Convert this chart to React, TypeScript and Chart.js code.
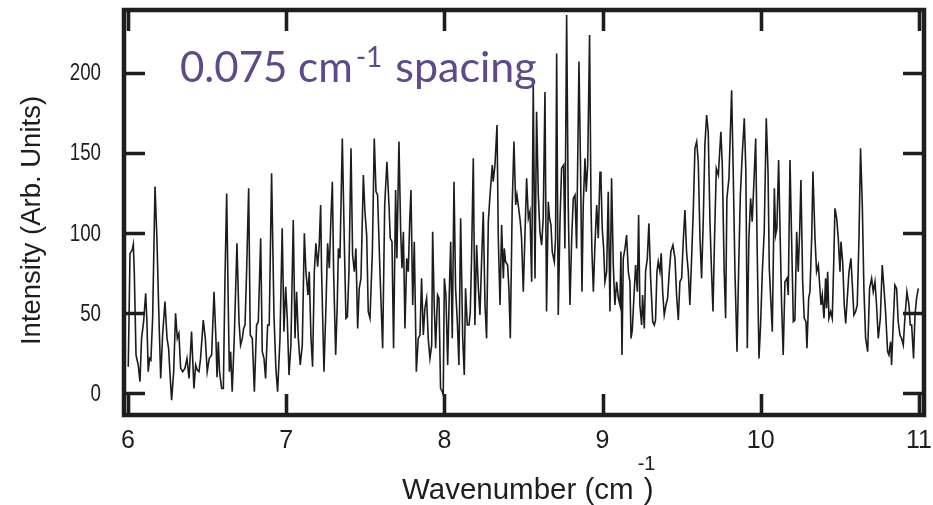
import React, { useEffect, useRef } from 'react';
import { Chart, registerables } from 'chart.js';

Chart.register(...registerables);

// Spectrum
const wavenumber = [
  6.002, 6.013, 6.027, 6.034, 6.040, 6.051, 6.065, 6.076, 6.086, 6.099, 6.112, 6.120, 6.128, 6.137, 6.145, 6.156,
  6.171, 6.183, 6.194, 6.207, 6.219, 6.234, 6.247, 6.257, 6.265, 6.276, 6.289, 6.301, 6.312, 6.322, 6.333, 6.346,
  6.360, 6.373, 6.386, 6.402, 6.417, 6.428, 6.438, 6.449, 6.459, 6.476, 6.489, 6.501, 6.514, 6.529, 6.544, 6.556,
  6.563, 6.571, 6.579, 6.592, 6.603, 6.613, 6.624, 6.634, 6.641, 6.649, 6.659, 6.672, 6.681, 6.689, 6.702, 6.712,
  6.723, 6.731, 6.740, 6.750, 6.763, 6.773, 6.786, 6.799, 6.813, 6.824, 6.839, 6.849, 6.860, 6.870, 6.883, 6.893,
  6.908, 6.923, 6.935, 6.946, 6.961, 6.975, 6.986, 6.997, 7.007, 7.018, 7.030, 7.045, 7.056, 7.066, 7.077, 7.089,
  7.102, 7.115, 7.125, 7.138, 7.146, 7.157, 7.167, 7.178, 7.188, 7.199, 7.209, 7.218, 7.224, 7.239, 7.252, 7.262,
  7.273, 7.283, 7.292, 7.300, 7.313, 7.323, 7.330, 7.340, 7.355, 7.368, 7.378, 7.387, 7.397, 7.410, 7.420, 7.431,
  7.441, 7.452, 7.462, 7.473, 7.488, 7.498, 7.509, 7.519, 7.530, 7.545, 7.557, 7.568, 7.578, 7.593, 7.610, 7.623,
  7.637, 7.650, 7.658, 7.669, 7.679, 7.692, 7.700, 7.713, 7.724, 7.732, 7.741, 7.751, 7.762, 7.772, 7.781, 7.789,
  7.800, 7.810, 7.823, 7.835, 7.846, 7.856, 7.867, 7.877, 7.888, 7.898, 7.909, 7.920, 7.926, 7.936, 7.945, 7.957,
  7.966, 7.976, 7.987, 7.993, 8.000, 8.010, 8.021, 8.031, 8.040, 8.050, 8.061, 8.071, 8.082, 8.092, 8.103, 8.116,
  8.126, 8.134, 8.145, 8.156, 8.164, 8.172, 8.183, 8.193, 8.204, 8.215, 8.225, 8.236, 8.246, 8.257, 8.267, 8.278,
  8.288, 8.303, 8.309, 8.320, 8.333, 8.341, 8.352, 8.362, 8.373, 8.379, 8.387, 8.400, 8.408, 8.417, 8.429, 8.440,
  8.451, 8.459, 8.467, 8.480, 8.488, 8.499, 8.510, 8.520, 8.531, 8.541, 8.552, 8.562, 8.573, 8.583, 8.594, 8.604,
  8.615, 8.625, 8.636, 8.646, 8.657, 8.665, 8.674, 8.682, 8.695, 8.703, 8.710, 8.720, 8.731, 8.741, 8.754, 8.762,
  8.773, 8.783, 8.794, 8.805, 8.815, 8.826, 8.836, 8.851, 8.861, 8.870, 8.878, 8.889, 8.897, 8.906, 8.918, 8.927,
  8.933, 8.942, 8.952, 8.963, 8.973, 8.984, 8.990, 8.998, 9.007, 9.015, 9.026, 9.036, 9.047, 9.057, 9.068, 9.078,
  9.089, 9.100, 9.110, 9.116, 9.123, 9.131, 9.142, 9.152, 9.163, 9.173, 9.180, 9.188, 9.199, 9.209, 9.220, 9.228,
  9.236, 9.247, 9.253, 9.264, 9.272, 9.283, 9.293, 9.304, 9.317, 9.327, 9.335, 9.344, 9.352, 9.363, 9.371, 9.380,
  9.390, 9.401, 9.411, 9.422, 9.432, 9.445, 9.458, 9.468, 9.479, 9.489, 9.500, 9.510, 9.521, 9.531, 9.542, 9.552,
  9.563, 9.574, 9.584, 9.595, 9.605, 9.616, 9.626, 9.637, 9.647, 9.658, 9.668, 9.679, 9.689, 9.698, 9.708, 9.719,
  9.732, 9.748, 9.757, 9.769, 9.778, 9.786, 9.799, 9.816, 9.826, 9.837, 9.850, 9.860, 9.871, 9.883, 9.896, 9.906,
  9.915, 9.925, 9.936, 9.946, 9.957, 9.968, 9.978, 9.989, 9.999, 10.010, 10.022, 10.035, 10.046, 10.054, 10.064, 10.073,
  10.086, 10.094, 10.102, 10.113, 10.123, 10.132, 10.142, 10.153, 10.166, 10.174, 10.185, 10.195, 10.206, 10.216, 10.227, 10.237,
  10.246, 10.254, 10.265, 10.275, 10.286, 10.292, 10.303, 10.311, 10.322, 10.330, 10.343, 10.353, 10.364, 10.374, 10.381, 10.389,
  10.400, 10.410, 10.416, 10.423, 10.431, 10.442, 10.452, 10.461, 10.469, 10.480, 10.490, 10.501, 10.507, 10.518, 10.528, 10.537,
  10.547, 10.558, 10.570, 10.579, 10.589, 10.600, 10.610, 10.621, 10.631, 10.642, 10.652, 10.663, 10.676, 10.688, 10.701, 10.711,
  10.722, 10.732, 10.743, 10.756, 10.768, 10.779, 10.789, 10.802, 10.810, 10.821, 10.827, 10.838, 10.848, 10.859, 10.869, 10.880,
  10.890, 10.901, 10.911, 10.924, 10.937, 10.945, 10.954, 10.966, 10.975, 10.985, 10.996,
];

const intensity = [
  16.6, 87.3, 89.4, 92.9, 75.9, 23.9, 17.7, 7.3, 34.3, 44.7, 62.4, 44.7, 13.5, 21.8, 20.8, 46.8,
  129, 96.7, 54.1, 9.3, 36.4, 57.2, 34.3, 28.1, 13.5, -4.2, 13.5, 49.9, 34.3, 37.4, 15.6, 13.5,
  15.6, 21.8, 9.3, 38.5, 3.1, 17.7, 14.5, 13.5, 21.8, 45.7, 34.3, 13.5, 21.8, 23.9, 63.4, 34.3,
  10, 32.2, 13.5, 3.1, 3.1, 69.6, 124.7, 55.1, 13.5, 26, 1, 34.3, 65.5, 93.6, 44.7, 30.1,
  34.3, 40.5, 42.6, 75.9, 127.9, 36.4, 34.3, 1, 42.6, 44.7, 96.7, 26, 21.8, 9.3, 42.6, 42.6,
  137.2, 48.9, 15.6, 1, 34.3, 102.9, 38.5, 66.5, 46.8, 11.4, 30.1, 108.1, 34.3, 63.4, 34.3, 17.7,
  30.1, 99.8, 75.9, 61.3, 75.9, 34.3, 16.6, 75.9, 93.6, 79, 92.5, 117.5, 75.9, 13.5, 55.1, 93.6,
  78, 109.2, 132, 75.9, 23.9, 55.1, 90.4, 84.2, 159, 92.5, 46.8, 47.8, 75.9, 152.8, 86.3, 75.9,
  90.4, 40.5, 65.5, 71.7, 136.2, 113.3, 98.7, 51, 46.8, 88.4, 159, 125.8, 123.7, 75.9, 28.1, 117.5,
  144.5, 117.5, 96.7, 94.6, 28.1, 126.8, 84.2, 157, 100.8, 78, 100.8, 40.5, 84.2, 75.9, 107.1, 126.8,
  55.1, 94.6, 13.5, 34.3, 36.4, 71.7, 36.4, 53.1, 59.3, 34.3, 21.8, 30.1, 100.8, 55.1, 28.1, 61.3,
  59.3, 3.1, 1, -1, 71.7, 61.3, 17.7, 61.3, 94.6, 34.3, 132, 65.5, 44.7, 17.7, 109.2, 34.3,
  11.4, 65.5, 42.6, 42.6, 51, 84.2, 146.6, 42.6, 92.5, 65.5, 48.9, 84.2, 113.3, 55.1, 34.3, 107.1,
  122.6, 142.4, 132, 142.4, 167.4, 96.7, 55.1, 105, 71.7, 90.4, 82.1, 80, 65.5, 34.3, 117.5, 157,
  117.5, 123.7, 117.5, 107.1, 96.7, 63.4, 100, 134.1, 109.2, 113.3, 69.6, 192.3, 71.7, 175.7, 123.7, 100.8,
  92.5, 109.2, 188, 51, 119.5, 109.2, 105, 88.4, 82.1, 96.7, 212, 48.9, 107.1, 140.3, 142.4, 90.4,
  236, 117.5, 55.1, 96.7, 121.6, 123.7, 90.4, 207, 140.3, 63.4, 117.5, 146.6, 125.8, 142.4, 223.5, 117.5,
  88.4, 63.4, 92.5, 117.5, 96.7, 138.3, 134.1, 102.9, 90.4, 69.6, 75.9, 125.8, 51, 134.1, 80, 55.1,
  69.6, 59.3, 55.1, 88.4, 23.9, 84.2, 90.4, 98.7, 75.9, 69.6, 34.3, 39.5, 61.3, 80, 63.4, 111.2,
  55.1, 42.6, 61.3, 40.5, 75.9, 84.2, 106, 71.7, 44.7, 42.6, 45.7, 75.9, 82.1, 75.9, 87.3, 63.4,
  48.9, 55.1, 59.3, 75.9, 88.4, 92.5, 84.2, 61.3, 45.7, 69.6, 71.7, 94.6, 114.4, 88.4, 75.9, 55.1,
  84.2, 115.4, 152.8, 157, 144.5, 96.7, 71.7, 109.2, 155, 173.6, 163.2, 107.1, 75.9, 51, 96.7, 140.3,
  136.2, 163.2, 142.4, 76, 46.8, 121.6, 134.1, 189, 138.3, 75.9, 26, 75.9, 123.7, 148.7, 171.5, 138.3,
  28.1, 96.7, 121.6, 107.1, 132, 159, 86.3, 21.8, 42.6, 75.9, 100.8, 171.5, 138.3, 78, 57.2, 38.5,
  127.9, 98.7, 102.9, 145.5, 96.7, 55.1, 23.9, 69.6, 71.7, 61.3, 145.5, 96.7, 44.7, 45.7, 100.8, 75.9,
  100.8, 133, 69.6, 46.8, 44.7, 28.1, 59.3, 63.4, 96.7, 138.3, 96.7, 75.9, 80, 65.5, 55.1, 61.3,
  46.8, 71.7, 53.1, 75.9, 46.8, 51, 46.8, 80, 115.4, 109.2, 96.7, 75.9, 94.6, 82.1, 55.1, 43.6,
  59.3, 75.9, 84.2, 67.6, 48.9, 51, 55.1, 96.7, 152.8, 117.5, 65.5, 34.3, 26, 65.5, 71.7, 63.4,
  69.6, 55.1, 34.3, 46.8, 80, 65.5, 51, 26, 23.9, 32.2, 17.7, 44.7, 67.6, 65.5, 44.7, 36.4,
  34.3, 30.1, 46.8, 63.4, 55.1, 42.6, 42.6, 21.8, 48.9, 59.3, 65.5,
];

const xTicks = [6, 7, 8, 9, 10, 11];
const yTicks = [0, 50, 100, 150, 200];
const xRange = [5.975, 11.032];
const yRange = [-13.5, 239.1];

const xTitleMain = 'Wavenumber (cm';
const titleSup = '-1';
const xTitleEnd = ')';
const yTitle = 'Intensity (Arb. Units)';
const noteMain = '0.075 cm';
const noteTail = 'spacing';

const AXIS_FONT = '"Liberation Sans", Arial, Helvetica, sans-serif';
const NOTE_FONT = 'Lato, "Open Sans", sans-serif';
const INK = '#1e1e1e';
const NOTE_COLOR = '#5e4a8a';

const decorPlugin = {
  id: 'decor',
  afterDraw(chart: any) {
    const { ctx, chartArea } = chart;
    const { left, right, top, bottom } = chartArea;
    const xs = chart.scales.x;
    const ys = chart.scales.y;
    ctx.save();
    // ticks (inside)
    ctx.strokeStyle = INK;
    ctx.lineWidth = 3.6;
    ctx.lineCap = 'butt';
    const tl = 21;
    ctx.beginPath();
    xTicks.forEach((v) => {
      const px = Math.round(xs.getPixelForValue(v)) + 0.5;
      ctx.moveTo(px, bottom);
      ctx.lineTo(px, bottom - tl);
      ctx.moveTo(px, top);
      ctx.lineTo(px, top + tl);
    });
    yTicks.forEach((v) => {
      const py = Math.round(ys.getPixelForValue(v)) + 0.5;
      ctx.moveTo(left, py);
      ctx.lineTo(left + tl, py);
      ctx.moveTo(right, py);
      ctx.lineTo(right - tl, py);
    });
    ctx.stroke();
    // frame
    ctx.lineWidth = 4.5;
    ctx.strokeRect(left, top, right - left, bottom - top);

    // y tick labels (narrow)
    ctx.fillStyle = INK;
    ctx.font = `24px ${AXIS_FONT}`;
    ctx.textAlign = 'right';
    ctx.textBaseline = 'middle';
    yTicks.forEach((v) => {
      const py = ys.getPixelForValue(v);
      ctx.save();
      ctx.translate(left - 23, py + 1);
      ctx.scale(0.78, 1);
      ctx.fillText(String(v), 0, 0);
      ctx.restore();
    });

    // y title
    ctx.font = `27.5px ${AXIS_FONT}`;
    ctx.textAlign = 'center';
    ctx.textBaseline = 'alphabetic';
    ctx.save();
    ctx.translate(40, (top + bottom) / 2 + 8);
    ctx.rotate(-Math.PI / 2);
    ctx.fillText(yTitle, 0, 0);
    ctx.restore();

    // x title with superscript
    ctx.textAlign = 'left';
    ctx.font = `29.5px ${AXIS_FONT}`;
    const wMain = ctx.measureText(xTitleMain).width;
    const x0 = (left + right) / 2 - 122;
    const base = 499;
    ctx.fillText(xTitleMain, x0, base);
    ctx.fillText(xTitleEnd, x0 + wMain + 10, base);
    ctx.font = `20px ${AXIS_FONT}`;
    ctx.fillText(titleSup, x0 + wMain + 4, base - 29);

    // annotation
    ctx.fillStyle = NOTE_COLOR;
    ctx.font = `42px ${NOTE_FONT}`;
    const nx = 180;
    const nb = 82;
    ctx.fillText(noteMain, nx, nb);
    const wn = ctx.measureText(noteMain).width;
    ctx.font = `28px ${NOTE_FONT}`;
    ctx.fillText(titleSup, nx + wn + 3, nb - 15);
    const ws = ctx.measureText(titleSup).width;
    ctx.font = `43px ${NOTE_FONT}`;
    ctx.fillText(noteTail, nx + wn + 3 + ws + 13, nb);
    ctx.restore();
  },
};

export default function App() {
  const ref = useRef<HTMLCanvasElement | null>(null);
  useEffect(() => {
    document.body.style.margin = '0';
    const canvas = ref.current;
    if (!canvas) return;
    const points = wavenumber.map((x, i) => ({ x, y: intensity[i] }));
    const chart = new Chart(canvas, {
      type: 'line',
      data: {
        datasets: [
          {
            data: points,
            borderColor: '#1c1c1c',
            borderWidth: 1.6,
            pointRadius: 0,
            fill: false,
            tension: 0,
          },
        ],
      },
      options: {
        animation: false,
        responsive: false,
        events: [],
        layout: { padding: { top: 10, right: 9, left: 0, bottom: 0 } },
        plugins: { legend: { display: false }, tooltip: { enabled: false } },
        scales: {
          x: {
            type: 'linear',
            min: xRange[0],
            max: xRange[1],
            afterBuildTicks: (s: any) => {
              s.ticks = xTicks.map((v) => ({ value: v }));
            },
            afterFit: (s: any) => {
              s.height = 90;
              s.paddingLeft = 0;
              s.paddingRight = 0;
            },
            grid: { display: false, drawTicks: false },
            border: { display: false },
            ticks: {
              autoSkip: false,
              maxRotation: 0,
              padding: 11,
              color: INK,
              font: { family: AXIS_FONT, size: 25 },
              callback: (v: any) => String(v),
            },
          },
          y: {
            type: 'linear',
            min: yRange[0],
            max: yRange[1],
            afterBuildTicks: (s: any) => {
              s.ticks = yTicks.map((v) => ({ value: v }));
            },
            afterFit: (s: any) => {
              s.width = 124;
              s.paddingTop = 0;
              s.paddingBottom = 0;
            },
            grid: { display: false, drawTicks: false },
            border: { display: false },
            ticks: { display: false },
          },
        },
      },
      plugins: [decorPlugin],
    });
    return () => chart.destroy();
  }, []);
  return <canvas ref={ref} width={933} height={505} style={{ display: 'block' }} />;
}
